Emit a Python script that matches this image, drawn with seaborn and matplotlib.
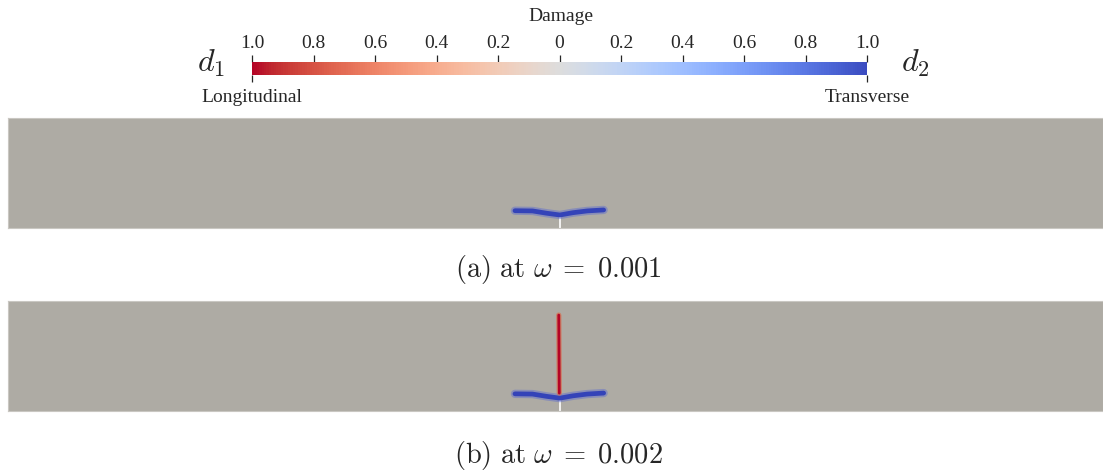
import numpy as np
import pandas as pd
import matplotlib
matplotlib.use('Agg')
import matplotlib.pyplot as plt
import seaborn as sns

# crack path data (beam coordinates, beam is 10 x 1)
blue_x = [4.63, 4.79, 4.92, 5.04, 5.16, 5.29, 5.44]
blue_y = [0.157, 0.155, 0.134, 0.118, 0.139, 0.155, 0.164]
red_x = [5.035, 5.03]
red_y = [0.164, 0.873]
notch_x = [5.04, 5.04]
notch_y = [0.0, 0.118]

cbar_ticks = [-1.0, -0.8, -0.6, -0.4, -0.2, 0.0, 0.2, 0.4, 0.6, 0.8, 1.0]
cbar_labels = ['1.0', '0.8', '0.6', '0.4', '0.2', '0', '0.2', '0.4', '0.6', '0.8', '1.0']
captions = [r'$\mathrm{(a)\ at\ }\omega\;=\;0.001$', r'$\mathrm{(b)\ at\ }\omega\;=\;0.002$']

sns.set_style('white')
plt.rcParams['font.family'] = ['Liberation Serif', 'DejaVu Serif']
plt.rcParams['mathtext.fontset'] = 'cm'

cmap = plt.get_cmap('coolwarm_r')
norm = matplotlib.colors.Normalize(vmin=-1, vmax=1)
d1_col = cmap(norm(-1.0))
d2_col = cmap(norm(1.0))

fig = plt.figure(figsize=(11.03, 4.72), dpi=100)

#colorbar
cax = fig.add_axes([0.2285, 0.841, 0.5576, 0.0275])
sm = matplotlib.cm.ScalarMappable(norm=norm, cmap=cmap)
cb = fig.colorbar(sm, cax=cax, orientation='horizontal')
cb.outline.set_visible(False)
cax.xaxis.set_ticks_position('top')
cax.set_xticks(cbar_ticks)
cax.set_xticklabels(cbar_labels)
cax.tick_params(axis='x', direction='out', length=5, width=0.9, pad=2, labelsize=14)
sec = cax.secondary_xaxis('bottom')
sec.set_xticks([-1, 1])
sec.set_xticklabels(['Longitudinal', 'Transverse'])
sec.tick_params(direction='out', length=5, width=0.9, pad=5, labelsize=14)
for s in sec.spines.values():
    s.set_visible(False)

fig.text(0.5085, 0.966, 'Damage', ha='center', va='center', fontsize=14)
fig.text(0.191, 0.866, r'$d_1$', ha='center', va='center', fontsize=23)
fig.text(0.830, 0.866, r'$d_2$', ha='center', va='center', fontsize=23)

#beam panels
panel_bottoms = [0.517, 0.129]
for i, bottom in enumerate(panel_bottoms):
    ax = fig.add_axes([0.00725, bottom, 0.9927, 0.233])
    ax.set_facecolor('#aeaba4')
    ax.set_xticks([])
    ax.set_yticks([])
    for s in ax.spines.values():
        s.set_color('#c9c7c2')
        s.set_linewidth(0.8)
    ax.plot(notch_x, notch_y, color='white', lw=1.2, zorder=2)
    df = pd.DataFrame({'x': blue_x, 'y': blue_y})
    sns.lineplot(data=df, x='x', y='y', sort=False, estimator=None, ax=ax,
                 color='#5a6ad0', lw=6, alpha=0.45, zorder=3)
    sns.lineplot(data=df, x='x', y='y', sort=False, estimator=None, ax=ax,
                 color='#3443b8', lw=3.4, zorder=4)
    if i == 1:
        dr = pd.DataFrame({'x': red_x, 'y': red_y})
        sns.lineplot(data=dr, x='x', y='y', sort=False, estimator=None, ax=ax,
                     color='#e0603c', lw=3.8, alpha=0.6, zorder=5)
        sns.lineplot(data=dr, x='x', y='y', sort=False, estimator=None, ax=ax,
                     color=d1_col, lw=2.0, zorder=6)
    ax.set_xlabel('')
    ax.set_ylabel('')
    ax.set_xlim(0, 10)
    ax.set_ylim(0, 1)

fig.text(0.506, 0.430, captions[0], ha='center', va='center', fontsize=20.5)
fig.text(0.506, 0.036, captions[1], ha='center', va='center', fontsize=20.5)

fig.savefig('out.png', dpi=100)
